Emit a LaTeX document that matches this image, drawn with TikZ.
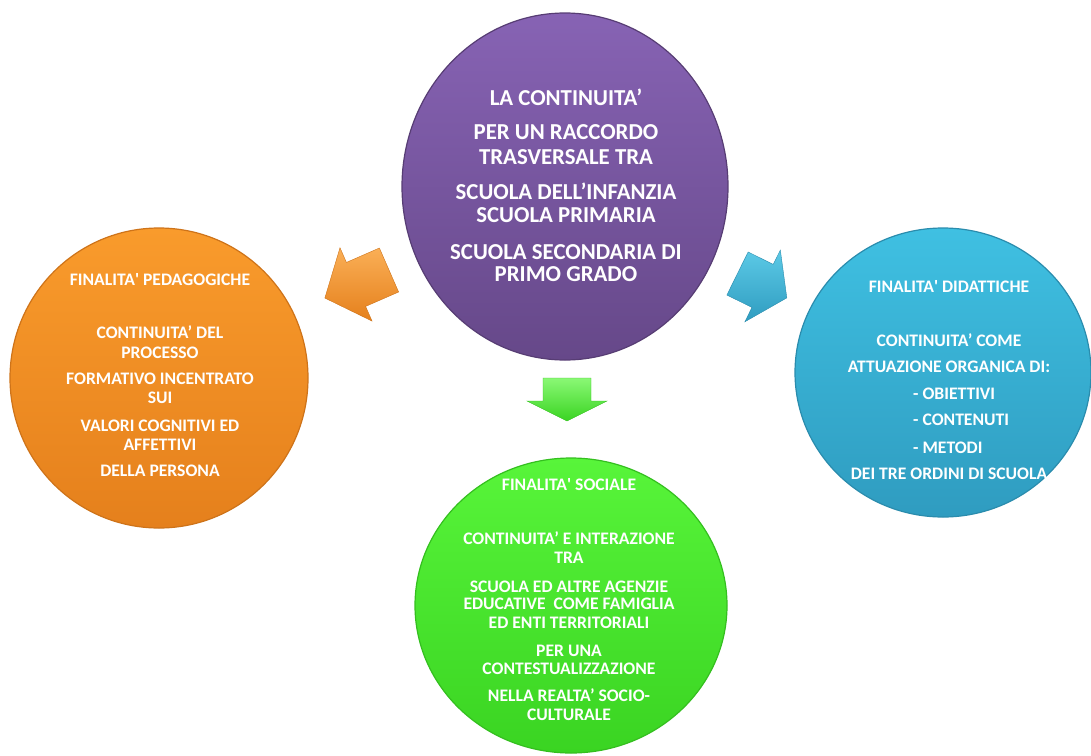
\documentclass[tikz,border=0pt]{standalone}
\usepackage{fontspec}
\setmainfont{Carlito}
\usetikzlibrary{shapes.geometric}
\definecolor{purpT}{HTML}{8763B4}
\definecolor{purpB}{HTML}{664889}
\definecolor{oranT}{HTML}{F99B2C}
\definecolor{oranB}{HTML}{E5801C}
\definecolor{blueT}{HTML}{3FC0E2}
\definecolor{blueB}{HTML}{2F9CC0}
\definecolor{greenT}{HTML}{58F53A}
\definecolor{greenB}{HTML}{3AD422}
\tikzset{
  bubble/.style={ellipse, inner sep=0pt, line width=1.2pt},
  bigtxt/.style={text=white, inner sep=0pt, text height=14.4pt, text depth=0pt, anchor=center,
    font=\fontsize{22.8}{25}\selectfont\bfseries},
  smalltxt/.style={text=white, inner sep=0pt, text height=11.2pt, text depth=0pt, anchor=center,
    font=\fontsize{17.6}{20}\selectfont\bfseries},
}
\newcommand\blockarrow[5]{%
  \begin{scope}[shift={#1}, rotate=#2]
    \path[#5] (0,-24) -- ({#3-#4},-24) -- ({#3-#4},-40) -- (#3,0) -- ({#3-#4},40) -- ({#3-#4},24) -- (0,24) -- cycle;
  \end{scope}}
\begin{document}
\begin{tikzpicture}[x=1pt,y=-1pt]
\useasboundingbox (0,0) rectangle (1091,755);
\clip (0,0) rectangle (1091,755);

% circles
\node[bubble, minimum width=326pt, minimum height=347pt, top color=purpT, bottom color=purpB, draw=purpB!85!black] (core) at (565,186.5) {};
\node[bubble, minimum width=298pt, minimum height=300pt, top color=oranT, bottom color=oranB, draw=oranB!90!black] (ped) at (159,378) {};
\node[bubble, minimum width=296pt, minimum height=289pt, top color=blueT, bottom color=blueB, draw=blueB!90!black] (did) at (943,372.5) {};
\node[bubble, minimum width=312pt, minimum height=295pt, top color=greenT, bottom color=greenB, draw=greenB!90!black] (soc) at (571,605.5) {};

% arrows
\coordinate (aO) at (389,270);
\coordinate (aB) at (737.5,273.5);
\coordinate (aG) at (567,378);
\blockarrow{(aO)}{203.6}{70}{34}{top color=oranT!80!white, bottom color=oranB, draw=oranB!90!black, line width=0.4pt}
\blockarrow{(aB)}{-26.3}{55}{27}{top color=blueT!85!white, bottom color=blueB, draw=blueB!90!black, line width=0.4pt}
\blockarrow{(aG)}{-90}{43}{20}{top color=greenT!70!white, bottom color=greenB, draw=greenB!90!black, line width=0.4pt}

% purple text
\foreach \y/\t [count=\i] in {98/LA CONTINUITA’, 132/PER UN RACCORDO, 157/TRASVERSALE TRA,
  192/SCUOLA DELL’INFANZIA, 215/SCUOLA PRIMARIA, 252/SCUOLA SECONDARIA DI, 274/PRIMO GRADO}
  \node[bigtxt] (c\i) at (566,\y) {\t};

% orange text
\foreach \y/\t [count=\i] in {280/FINALITA\textquotesingle\ PEDAGOGICHE, 333/CONTINUITA’ DEL, 353/PROCESSO,
  379/FORMATIVO INCENTRATO, 398/SUI, 426/VALORI COGNITIVI ED, 445/AFFETTIVI, 471/DELLA PERSONA}
  \node[smalltxt] (p\i) at (160,\y) {\t};

% blue text
\foreach \y/\t [count=\i] in {287/FINALITA\textquotesingle\ DIDATTICHE, 341/CONTINUITA’ COME,
  367/ATTUAZIONE ORGANICA DI:, 474/DEI TRE ORDINI DI SCUOLA}
  \node[smalltxt] (d\i) at (949,\y) {\t};
\foreach \y/\t [count=\i] in {394/- OBIETTIVI, 420/- CONTENUTI, 448/- METODI}
  \node[smalltxt, anchor=west] (e\i) at (913,\y) {\t};

% green text
\foreach \y/\t [count=\i] in {485/FINALITA\textquotesingle\ SOCIALE, 539/CONTINUITA’ E INTERAZIONE, 558/TRA,
  587/SCUOLA ED ALTRE AGENZIE, 604/EDUCATIVE\ \ COME FAMIGLIA, 623/ED ENTI TERRITORIALI,
  651/PER UNA, 669/CONTESTUALIZZAZIONE, 696/NELLA REALTA’ SOCIO-, 715/CULTURALE}
  \node[smalltxt] (s\i) at (569,\y) {\t};
\end{tikzpicture}
\end{document}
